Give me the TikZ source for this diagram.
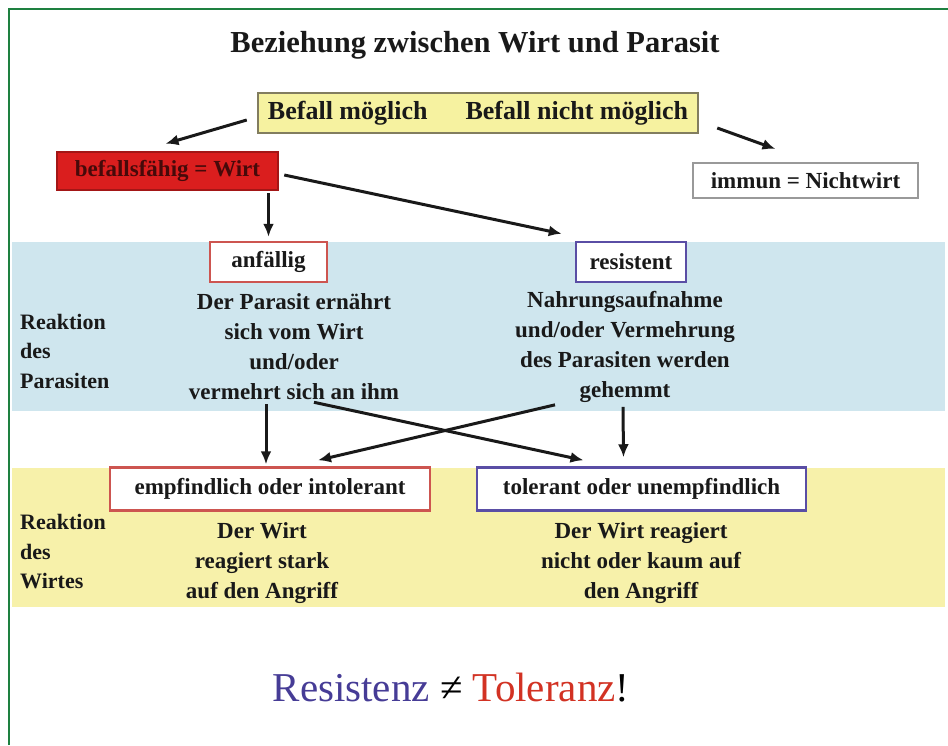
\documentclass[tikz,border=0pt]{standalone}
\usepackage{fontspec}
\setmainfont{Liberation Serif}
\usetikzlibrary{arrows.meta}

\definecolor{rahmgruen}{RGB}{30,128,64}
\definecolor{bandblau}{RGB}{207,230,238}
\definecolor{bandgelb}{RGB}{247,241,170}
\definecolor{boxgelb}{RGB}{246,242,160}
\definecolor{boxrand}{RGB}{130,125,95}
\definecolor{wirtrot}{RGB}{218,30,30}
\definecolor{wirtschrift}{RGB}{70,10,10}
\definecolor{rotrand}{RGB}{205,85,80}
\definecolor{blaurand}{RGB}{90,78,165}
\definecolor{textblau}{RGB}{70,60,150}
\definecolor{textrot}{RGB}{210,50,35}
\definecolor{schrift}{RGB}{25,25,25}

\tikzstyle{kasten} = [rectangle, draw, line width=2.5pt, fill=white, text=schrift, text centered, inner sep=0pt, font=\bfseries\fontsize{23}{30}\selectfont]
\tikzstyle{erklaerung} = [align=center, inner sep=0pt, text=schrift, font=\bfseries\fontsize{23}{30}\selectfont]
\tikzstyle{reihe} = [align=left, anchor=west, inner sep=0pt, text=schrift, font=\bfseries\fontsize{22}{29.5}\selectfont]
\tikzstyle{pfeil} = [-{Latex[length=13pt,width=11pt]}, line width=3pt, schrift]

\begin{document}
\begin{tikzpicture}[x=1pt, y=-1pt]
	\useasboundingbox (0,0) rectangle (948,745);
	\fill[white] (0,0) rectangle (948,745);
	% Rahmen und Baender
	\draw[rahmgruen, line width=2.5pt] (9,745) -- (9,9) -- (948,9);
	\fill[bandblau] (12,242) rectangle (945,411);
	\fill[bandgelb] (12,468) rectangle (945,607);
	% Titel
	\node[text=schrift, font=\bfseries\fontsize{30.5}{36}\selectfont] (titel) at (475,45) {Beziehung zwischen Wirt und Parasit};
	% Kaesten oben
	\node[kasten, fill=boxgelb, draw=boxrand, minimum width=440pt, minimum height=40pt, font=\bfseries\fontsize{26}{30}\selectfont] (befall) at (478,113) {Befall möglich\hspace{38pt}Befall nicht möglich};
	\node[kasten, fill=wirtrot, draw=wirtrot!75!black, text=wirtschrift, minimum width=221pt, minimum height=38pt] (wirt) at (167.5,171) {befallsfähig = Wirt};
	\node[kasten, draw=gray!80, line width=2pt, minimum width=225pt, minimum height=35pt] (immun) at (805.5,180.5) {immun = Nichtwirt};
	% Reaktion des Parasiten
	\node[kasten, draw=rotrand, minimum width=117pt, minimum height=40pt] (anfaellig) at (268.5,262) {anfällig};
	\node[kasten, draw=blaurand, minimum width=110pt, minimum height=40pt] (resistent) at (631,262) {resistent};
	\node[erklaerung] (anftext) at (294,347) {Der Parasit ernährt\\sich vom Wirt\\und/oder\\vermehrt sich an ihm};
	\node[erklaerung] (restext) at (625,347) {Nahrungsaufnahme\\und/oder Vermehrung\\des Parasiten werden\\gehemmt};
	\node[reihe] (parasit) at (20,351) {Reaktion\\des\\Parasiten};
	% Reaktion des Wirtes
	\node[kasten, draw=rotrand, minimum width=320pt, minimum height=43pt] (empf) at (270,489) {empfindlich oder intolerant};
	\node[kasten, draw=blaurand, minimum width=329pt, minimum height=43pt] (tol) at (641.5,489) {tolerant oder unempfindlich};
	\node[erklaerung] (empftext) at (262,563) {Der Wirt\\reagiert stark\\auf den Angriff};
	\node[erklaerung] (toltext) at (641,563) {Der Wirt reagiert\\nicht oder kaum auf\\den Angriff};
	\node[reihe] (wirtreihe) at (20,552) {Reaktion\\des\\Wirtes};
	% Merksatz
	\node[font=\fontsize{41}{48}\selectfont] (merksatz) at (451,688) {\textcolor{textblau}{Resistenz} ≠ \textcolor{textrot}{Toleranz}!};
	% Pfeile
	\draw[pfeil] ([xshift=-10pt,yshift=-7pt]befall.west) -- ([xshift=-2pt,yshift=7pt]wirt.north);
	\draw[pfeil] ([xshift=18pt,yshift=-15pt]befall.east) -- ([xshift=-30pt,yshift=13pt]immun.north);
	\draw[pfeil] ([yshift=-2pt]wirt.south -| anfaellig.north) -- ([yshift=4pt]anfaellig.north);
	\draw[pfeil] ([xshift=5pt,yshift=-4pt]wirt.east) -- ([xshift=-13pt,yshift=7pt]resistent.north west);
	\draw[pfeil] ([xshift=-28pt,yshift=-4pt]anftext.south) -- ([xshift=-4pt,yshift=2pt]empf.north);
	\draw[pfeil] ([xshift=20pt,yshift=-2pt]anftext.south) -- ([xshift=-58pt,yshift=6pt]tol.north);
	\draw[pfeil] ([xshift=-70pt,yshift=-2pt]restext.south) -- ([xshift=48pt,yshift=6pt]empf.north);
	\draw[pfeil] ([xshift=-2pt,yshift=-4pt]restext.south) -- ([xshift=-18pt,yshift=9pt]tol.north);
\end{tikzpicture}
\end{document}
